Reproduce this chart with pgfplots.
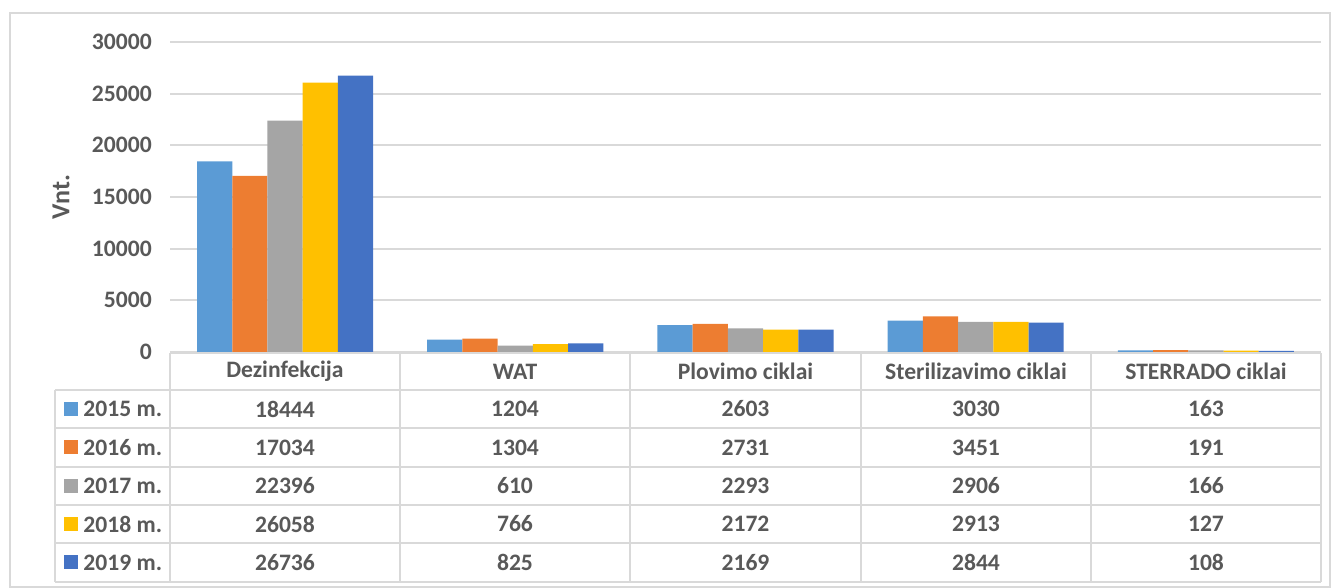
\documentclass[border=0pt]{standalone}
\usepackage{fontspec}
\setmainfont{Carlito}
\usepackage{pgfplots}
\pgfplotsset{compat=1.18}
\definecolor{cA}{HTML}{5B9BD5}
\definecolor{cB}{HTML}{ED7D31}
\definecolor{cC}{HTML}{A5A5A5}
\definecolor{cD}{HTML}{FFC000}
\definecolor{cE}{HTML}{4472C4}
\definecolor{txt}{HTML}{595959}
\definecolor{grd}{HTML}{D9D9D9}
\begin{document}
\begin{tikzpicture}
\fontsize{11.8}{14}\selectfont\bfseries
\path[use as bounding box] (0,0) rectangle (670pt,294pt);
\begin{axis}[
  at={(85pt,118pt)}, anchor=south west,
  scale only axis, width=575.5pt, height=155pt,
  xmin=-0.5, xmax=4.5, ymin=0, ymax=30000,
  ytick={0,5000,...,30000}, xtick=\empty,
  ymajorgrids, grid style={grd, line width=1pt},
  axis line style={draw=none}, major tick style={draw=none},
  /pgf/number format/assume math mode=true,
  /pgf/number format/1000 sep={},
  yticklabel style={font=\fontsize{11.8}{14}\selectfont\bfseries, text=txt, xshift=-5pt},
  scaled y ticks=false,
  clip=false,
  bar width=0.153,
]
\addplot[ybar, fill=cA, draw=none, bar shift=-0.306] coordinates {(0,18444) (1,1204) (2,2603) (3,3030) (4,163)};
\addplot[ybar, fill=cB, draw=none, bar shift=-0.153] coordinates {(0,17034) (1,1304) (2,2731) (3,3451) (4,191)};
\addplot[ybar, fill=cC, draw=none, bar shift=0] coordinates {(0,22396) (1,610) (2,2293) (3,2906) (4,166)};
\addplot[ybar, fill=cD, draw=none, bar shift=0.153] coordinates {(0,26058) (1,766) (2,2172) (3,2913) (4,127)};
\addplot[ybar, fill=cE, draw=none, bar shift=0.306] coordinates {(0,26736) (1,825) (2,2169) (3,2844) (4,108)};
\end{axis}
\begin{scope}[x=0.5pt, y=-0.5pt, shift={(0,294pt)}]
  % outer frame
  \draw[grd, line width=1pt] (10,13) rectangle (1330,587);
  % table lines
  \draw[grd, line width=1pt] (170,353) -- (1321,353);
  \foreach \yy in {390,428,467,505,543,582} \draw[grd, line width=1pt] (55,\yy) -- (1321,\yy);
  \draw[grd, line width=1pt] (55,390) -- (55,582);
  \foreach \xx in {170,400,630,861,1091,1321} \draw[grd, line width=1pt] (\xx,353) -- (\xx,582);
  % y label
  \node[rotate=90, text=txt, font=\fontsize{13}{15}\selectfont\bfseries] at (61,197) {Vnt.};
  % header
  \foreach \cx/\lab in {285/Dezinfekcija, 515/WAT, 745.5/Plovimo ciklai, 976/Sterilizavimo ciklai, 1206/STERRADO ciklai}
    \node[text=txt] at (\cx,371.5) {\lab};
  % legend column
  \foreach \cy/\col/\lab in {409/cA/2015, 447.5/cB/2016, 486/cC/2017, 524/cD/2018, 562.5/cE/2019} {
    \fill[\col] (64,\cy-7) rectangle (78,\cy+7);
    \node[text=txt, anchor=west, inner sep=0pt] at (83,\cy) {\lab{} m.};
  }
  % values
  \foreach \cy/\a/\b/\c/\d/\e in {409/18444/1204/2603/3030/163, 447.5/17034/1304/2731/3451/191, 486/22396/610/2293/2906/166, 524/26058/766/2172/2913/127, 562.5/26736/825/2169/2844/108} {
    \node[text=txt] at (285,\cy) {\a};
    \node[text=txt] at (515,\cy) {\b};
    \node[text=txt] at (745.5,\cy) {\c};
    \node[text=txt] at (976,\cy) {\d};
    \node[text=txt] at (1206,\cy) {\e};
  }
\end{scope}
\end{tikzpicture}
\end{document}
